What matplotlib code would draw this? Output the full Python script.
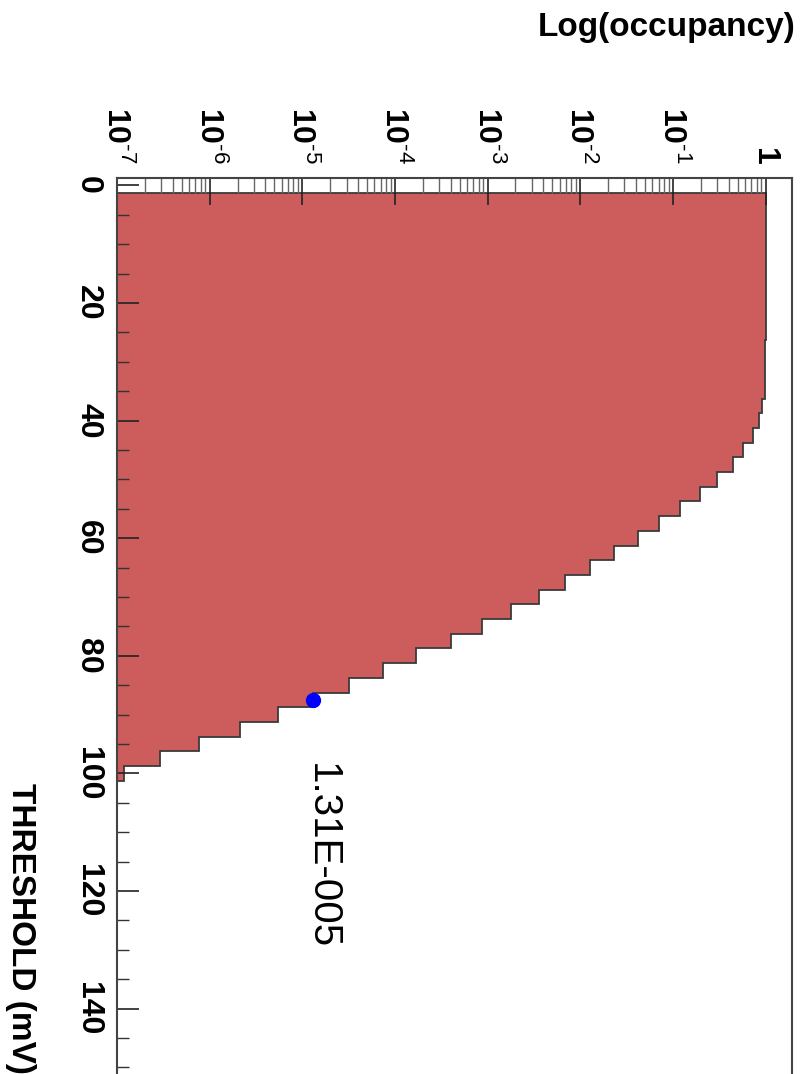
import numpy as np
import matplotlib.pyplot as plt
from matplotlib.ticker import LogLocator, NullFormatter, MultipleLocator

plt.rcParams['font.family'] = ['Liberation Sans', 'DejaVu Sans']
plt.rcParams['mathtext.fontset'] = 'custom'
plt.rcParams['mathtext.rm'] = 'Liberation Sans'
plt.rcParams['mathtext.bf'] = 'Liberation Sans:bold'

# histogram: threshold bins (mV), 2.5 mV wide, first edge at 1.25
bin_edges = 1.25 + 2.5 * np.arange(41)
occupancy = [1.0, 1.0, 1.0, 1.0, 1.0, 1.0, 1.0, 1.0, 1.0, 1.0, 0.995, 0.99, 0.985,
             0.975, 0.92, 0.84, 0.74, 0.574, 0.448, 0.303, 0.198, 0.12, 0.0715,
             0.0416, 0.0233, 0.0126, 0.00689, 0.00355, 0.00178, 8.66e-4, 4.03e-4,
             1.69e-4, 7.36e-5, 3.2e-5, 1.31e-5, 5.47e-6, 2.15e-6, 7.66e-7,
             2.93e-7, 1.2e-7]

# marked point
mark_thr = 87.5
mark_occ = 1.31e-5
mark_label = '1.31E-005'

thr_ticks = [0, 20, 40, 60, 80, 100, 120, 140]
occ_ticks = [1e-7, 1e-6, 1e-5, 1e-4, 1e-3, 1e-2, 1e-1, 1]
occ_labels = [r'$\mathbf{10}^{\text{-7}}$', r'$\mathbf{10}^{\text{-6}}$',
              r'$\mathbf{10}^{\text{-5}}$', r'$\mathbf{10}^{\text{-4}}$',
              r'$\mathbf{10}^{\text{-3}}$', r'$\mathbf{10}^{\text{-2}}$',
              r'$\mathbf{10}^{\text{-1}}$', r'$\mathbf{1}$']

W, H = 802, 1074
fig = plt.figure(figsize=(W / 100, H / 100), dpi=100)
ax = fig.add_axes([117 / W, (H - 1074.7) / H, 675 / W, (1074.7 - 178) / H])

ax.set_xscale('log')
ax.set_xlim(1e-7, 1.93)
ax.set_ylim(151.25, -1.25)

ax.stairs(occupancy, bin_edges, orientation='horizontal', baseline=1e-7,
          fill=True, color='#cd5c5c')
ax.stairs(occupancy, bin_edges, orientation='horizontal', baseline=1e-7,
          fill=False, color='#3a3a3a', lw=1.3)

ax.plot([mark_occ], [mark_thr], 'o', color='blue', ms=10, zorder=5)
ax.text(1.63e-5, 98.2, mark_label, rotation=-90, ha='center', va='top',
        fontsize=29)

# log axis on top
ax.xaxis.tick_top()
ax.set_xticks(occ_ticks)
ax.set_xticklabels(occ_labels)
ax.xaxis.set_minor_locator(LogLocator(base=10, subs=np.arange(2, 10), numticks=100))
ax.xaxis.set_minor_formatter(NullFormatter())
ax.tick_params(axis='x', which='major', direction='in', length=19.5, width=1.2,
               labelsize=23, labelrotation=-90, pad=10, colors='#222222',
               labelcolor='black')
ax.tick_params(axis='x', which='minor', direction='in', length=10.8, width=1.0,
               colors='#666666')

# threshold axis on left
ax.set_yticks(thr_ticks)
ax.yaxis.set_minor_locator(MultipleLocator(5))
ax.tick_params(axis='y', which='major', direction='in', length=16, width=1.2,
               labelsize=23, labelrotation=-90, pad=10, colors='#222222',
               labelcolor='black')
ax.tick_params(axis='y', which='minor', direction='in', length=8.6, width=1.0,
               colors='#333333')
for lab in ax.get_yticklabels():
    lab.set_fontweight('bold')
    lab.set_va('center')

for s in ['top', 'right', 'left']:
    ax.spines[s].set_color('#444444')
    ax.spines[s].set_linewidth(1.5)
ax.spines['bottom'].set_visible(False)

fig.text(795 / W, 1 - 12 / H, 'Log(occupancy)', ha='right', va='top',
         fontsize=24, fontweight='bold')
fig.text(20 / W, 1 - 783 / H, 'THRESHOLD (mV)', ha='center', va='top',
         rotation=-90, fontsize=24, fontweight='bold')

fig.savefig('out.png', dpi=100)
